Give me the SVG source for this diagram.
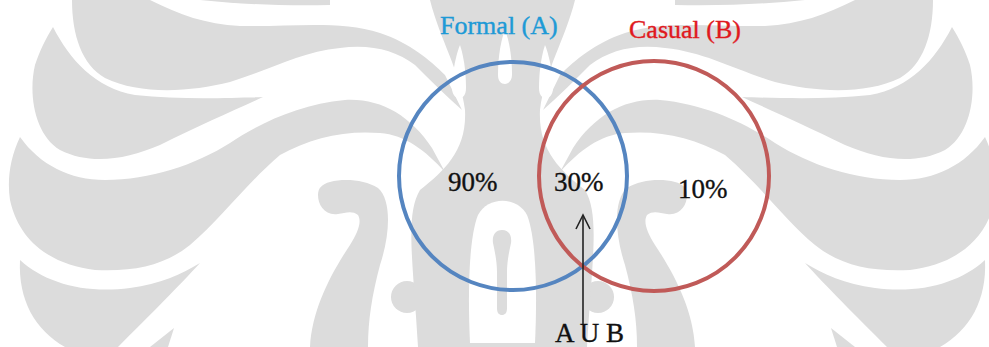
<svg xmlns="http://www.w3.org/2000/svg" xmlns:xlink="http://www.w3.org/1999/xlink" width="989" height="347" viewBox="0 0 989 347">
<style>
.wm{fill:#dcdcdc;stroke:none}
.wh{fill:#ffffff;stroke:none}
.lbl{font-family:"Liberation Serif","Times New Roman",serif;font-size:27px;fill:#111;stroke:#111;stroke-width:0.35}
.ttl{font-family:"Liberation Serif","Times New Roman",serif;font-size:26px;stroke-width:0.4}
.set{fill:none;stroke-width:4}
.conn{fill:none;stroke:#222;stroke-width:1.6}
</style>
<defs>
<g id="half">
<path class="wm" d="M72,0 L150,0 C180,15 205,24 240,26 C290,27 340,20 380,33 C410,43 430,60 445,75 L462,110 C445,95 430,80 415,65 C395,50 370,44 340,48 C300,52 270,70 230,82 C190,92 140,95 105,78 C82,65 72,35 72,0 Z"/>
<path class="wm" d="M53,27 C70,60 95,88 135,95 C180,100 230,98 263,97 C235,110 200,125 160,145 C125,160 90,165 60,150 C35,135 28,95 35,65 C40,50 46,38 53,27 Z"/>
<path class="wm" d="M20,137 C40,165 70,180 105,180 C150,180 195,165 230,143 C260,123 300,104 345,100 C380,98 410,115 432,148 L445,172 C425,150 405,135 380,133 C345,130 310,138 280,155 C245,185 220,220 190,245 C165,265 135,272 95,270 C55,265 20,245 10,200 C7,180 10,158 20,137 Z"/>
<path class="wm" d="M20,260 C45,283 85,294 130,288 C160,284 182,274 200,263 C180,285 150,315 118,347 L65,347 C35,330 18,300 20,260 Z"/>
<path class="wm" d="M174,328 L150,347 L168,347 Z"/>
<path class="wm" d="M330,182 C345,178 365,180 378,188 C392,200 390,235 380,265 C372,295 368,320 368,347 L310,347 C312,310 330,275 350,245 C358,232 362,222 358,215 C352,210 345,213 338,214 C325,216 318,205 318,195 C318,188 322,184 330,182 Z"/>
<circle class="wm" cx="407" cy="297" r="16"/>
<path class="wm" d="M200,0 L330,0 L330,5 C280,6 240,4 200,0 Z"/>
</g>
</defs>
<g id="watermark">
<use xlink:href="#half"/>
<use xlink:href="#half" transform="translate(1005,0) scale(-1,1)"/>
<path class="wm" d="M430,0 L575,0 C565,40 545,70 540,110 C538,150 560,170 585,190 C600,215 592,260 587,347 L418,347 C413,260 405,215 420,190 C445,170 467,150 465,110 C460,70 440,40 430,0 Z"/>
<path class="wh" d="M505,30 C511,45 512,65 512,75 C512,81 508,84 505,84 C501,84 498,81 498,75 C498,65 499,45 505,30 Z"/>
<path class="wh" d="M545,45 C551,60 553,80 553,88 C553,95 549,98 546,98 C542,98 539,95 539,88 C539,78 540,60 545,45 Z"/>
<path class="wh" d="M460,45 C454,60 452,80 452,88 C452,95 456,98 459,98 C463,98 466,95 466,88 C466,78 465,60 460,45 Z"/>
<path class="wh" d="M470,343 C468,300 468,240 478,215 C488,196 517,196 527,215 C537,240 537,300 535,343 Z"/>
<path class="wm" d="M502,230 C509,230 512,236 511,243 C509,252 507,262 507,272 L507,308 C507,313 505,315 502,315 C499,315 497,313 497,308 L497,272 C497,262 495,252 493,243 C492,236 495,230 502,230 Z"/>
</g>
<g id="circleA"><circle class="set" cx="513" cy="176" r="114" stroke="#5585c0"/></g>
<g id="circleB"><circle class="set" cx="654" cy="176" r="115" stroke="#c05a58"/></g>
<g id="titleA"><text class="ttl" x="440" y="34" fill="#1e9ad6" stroke="#1e9ad6">Formal (A)</text></g>
<g id="titleB"><text class="ttl" x="629" y="38" fill="#e0191e" stroke="#e0191e">Casual (B)</text></g>
<g id="onlyA"><text class="lbl" x="448" y="191">90%</text></g>
<g id="both"><text class="lbl" x="554" y="191">30%</text></g>
<g id="onlyB"><text class="lbl" x="678" y="198">10%</text></g>
<g id="union"><text class="lbl" x="555" y="342">A U B</text></g>
<g id="connectors">
<line class="conn" x1="583" y1="324" x2="583" y2="216"/>
<polyline class="conn" points="576,229 583,215 590,229"/>
</g>
</svg>
